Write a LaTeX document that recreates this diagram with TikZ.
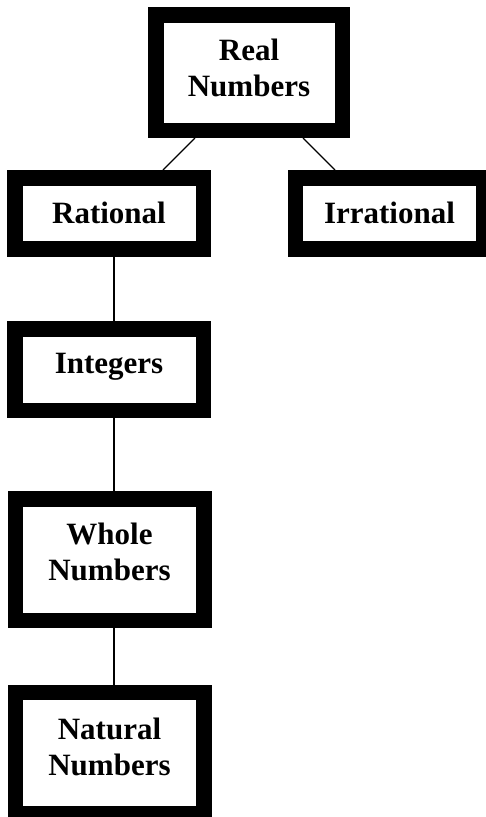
\documentclass[tikz,border=0pt]{standalone}
\usepackage{fontspec}
\setmainfont{Liberation Serif}
\begin{document}
\begin{tikzpicture}[x=1pt,y=-1pt,
  box/.style={rectangle, draw=black, line width=15.5pt, fill=white, minimum width=188.5pt, inner sep=0pt},
  lbl/.style={font=\fontsize{31}{36}\selectfont\bfseries, align=center, inner sep=0pt},
  conn/.style={line width=1.2pt, draw=black}]
\useasboundingbox (0,0) rectangle (486,817);
\node[box, minimum width=186.5pt, minimum height=115.5pt] (real) at (249,72.5) {};
\node[box, minimum height=71pt] (rational) at (109,213.25) {};
\node[box, minimum height=71pt] (irrational) at (389.5,213.25) {};
\node[box, minimum height=81.5pt] (integers) at (109,369.5) {};
\node[box, minimum height=121.5pt] (whole) at (109.5,559.5) {};
\node[box, minimum height=121.5pt] (natural) at (109.5,753) {};
\node[lbl] (realtxt) at ([yshift=4.75pt]real.center) {Real\\Numbers};
\node[lbl] (rationaltxt) at ([yshift=0.5pt]rational.center) {Rational};
\node[lbl] (irrationaltxt) at ([yshift=0.5pt]irrational.center) {Irrational};
\node[lbl] (integerstxt) at ([yshift=2.3pt]integers.center) {Integers};
\node[lbl] (wholetxt) at ([yshift=7.75pt]whole.center) {Whole\\Numbers};
\node[lbl] (naturaltxt) at ([yshift=6pt]natural.center) {Natural\\Numbers};
\draw[conn] ([xshift=-54pt]real.south) -- ([xshift=54pt]rational.north);
\draw[conn] ([xshift=54pt]real.south) -- ([xshift=-54.5pt]irrational.north);
\draw[conn] ([xshift=5pt]rational.south) -- ([xshift=5pt]integers.north);
\draw[conn] ([xshift=5pt]integers.south) -- ([xshift=4.5pt]whole.north);
\draw[conn] ([xshift=4.5pt]whole.south) -- ([xshift=4.5pt]natural.north);
\end{tikzpicture}
\end{document}
